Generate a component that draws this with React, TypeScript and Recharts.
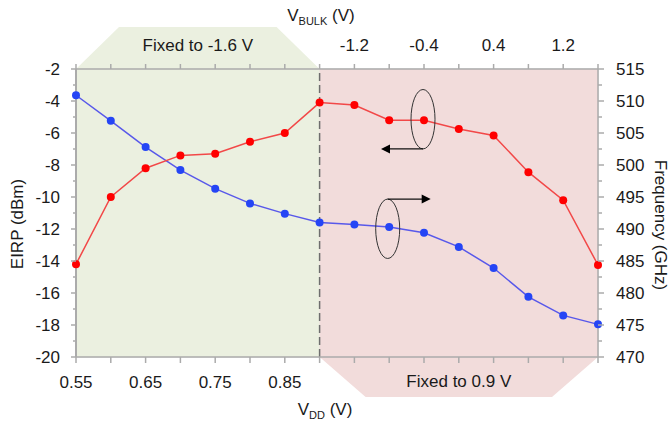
import React from 'react';
import {
  ComposedChart,
  Line,
  XAxis,
  YAxis,
  CartesianGrid,
  ReferenceArea,
  ReferenceLine,
  ReferenceDot,
} from 'recharts';

// sweep steps: 0..7 -> VDD sweep (bulk fixed), 7..15 -> VBULK sweep (VDD fixed)
const steps = [0, 1, 2, 3, 4, 5, 6, 7, 8, 9, 10, 11, 12, 13, 14, 15];
const eirp = [-14.2, -10.0, -8.2, -7.4, -7.3, -6.55, -6.0, -4.1, -4.25, -5.2, -5.2, -5.75, -6.15, -8.45, -10.2, -14.25];
const freq = [510.9, 506.9, 502.8, 499.2, 496.3, 494.0, 492.4, 491.0, 490.7, 490.3, 489.4, 487.2, 483.9, 479.4, 476.5, 475.1];

const vddTickSteps = [0, 2, 4, 6];
const vddTickLabels = ['0.55', '0.65', '0.75', '0.85'];
const bulkTickSteps = [8, 10, 12, 14];
const bulkTickLabels = ['-1.2', '-0.4', '0.4', '1.2'];

const eirpTicks = [-20, -19, -18, -17, -16, -15, -14, -13, -12, -11, -10, -9, -8, -7, -6, -5, -4, -3, -2];
const eirpGrid = [-20, -18, -16, -14, -12, -10, -8, -6, -4, -2];
const freqTicks = [470, 472.5, 475, 477.5, 480, 482.5, 485, 487.5, 490, 492.5, 495, 497.5, 500, 502.5, 505, 507.5, 510, 512.5, 515];

const data = steps.map((s, i) => ({ step: s, eirp: eirp[i], freq: freq[i] }));

const FONT = '"Liberation Sans", Arial, sans-serif';
const FS = 17;
const TXT = '#1a1a1a';
const AXIS = '#ababab';

const BottomTick = ({ x, y, payload }: any) => {
  const i = vddTickSteps.indexOf(payload.value);
  return (
    <g>
      <line x1={x} x2={x} y1={y} y2={y + 6} stroke={AXIS} strokeWidth={1.5} />
      {i >= 0 && (
        <text x={x} y={y + 25} textAnchor="middle" dominantBaseline="central" fontSize={FS} fill={TXT} fontFamily={FONT}>
          {vddTickLabels[i]}
        </text>
      )}
    </g>
  );
};

const TopTick = ({ x, y, payload }: any) => {
  const i = bulkTickSteps.indexOf(payload.value);
  return (
    <g>
      <line x1={x} x2={x} y1={y} y2={y - 5} stroke={AXIS} strokeWidth={1.5} />
      {i >= 0 && (
        <text x={x} y={y - 24} textAnchor="middle" dominantBaseline="central" fontSize={FS} fill={TXT} fontFamily={FONT}>
          {bulkTickLabels[i]}
        </text>
      )}
    </g>
  );
};

const LeftTick = ({ x, y, payload }: any) => {
  const major = payload.value % 2 === 0;
  return (
    <g>
      <line x1={x} x2={x - (major ? 5 : 3)} y1={y} y2={y} stroke={AXIS} strokeWidth={1.5} />
      {major && (
        <text x={x - 16} y={y} textAnchor="end" dominantBaseline="central" fontSize={FS} fill={TXT} fontFamily={FONT}>
          {payload.value}
        </text>
      )}
    </g>
  );
};

const RightTick = ({ x, y, payload }: any) => {
  const major = payload.value % 5 === 0;
  return (
    <g>
      <line x1={x} x2={x + (major ? 6 : 4)} y1={y} y2={y} stroke={AXIS} strokeWidth={1.5} />
      {major && (
        <text x={x + 18} y={y} textAnchor="start" dominantBaseline="central" fontSize={FS} fill={TXT} fontFamily={FONT}>
          {payload.value}
        </text>
      )}
    </g>
  );
};

const GreenArea = ({ x, y, width, height }: any) => {
  const c = 43;
  const pts = [
    [x, y + height],
    [x, y],
    [x + c, y - 42],
    [x + width - c, y - 42],
    [x + width, y],
    [x + width, y + height],
  ];
  return (
    <g>
      <polygon points={pts.map((p) => p.join(',')).join(' ')} fill="#ebf0e0" />
      <text x={x + width / 2} y={y - 24} textAnchor="middle" dominantBaseline="central" fontSize={FS} fill={TXT} fontFamily={FONT}>
        Fixed to -1.6 V
      </text>
    </g>
  );
};

const PinkArea = ({ x, y, width, height }: any) => {
  const c = 46;
  const b = y + height;
  const pts = [
    [x, y],
    [x + width, y],
    [x + width, b],
    [x + width - c, b + 40],
    [x + c, b + 40],
    [x, b],
  ];
  return (
    <g>
      <polygon points={pts.map((p) => p.join(',')).join(' ')} fill="#f2dcdb" />
      <text x={x + width / 2} y={b + 24} textAnchor="middle" dominantBaseline="central" fontSize={FS} fill={TXT} fontFamily={FONT}>
        Fixed to 0.9 V
      </text>
    </g>
  );
};

const arrowHead = (tipX: number, tipY: number, dir: number) =>
  `${tipX},${tipY} ${tipX - dir * 9},${tipY - 4.5} ${tipX - dir * 9},${tipY + 4.5}`;

// ellipse marker with arrow pointing to the left axis
const EirpMarker = ({ cx, cy }: any) => {
  const ex = cx - 1;
  const ey = cy - 1;
  return (
    <g>
      <ellipse cx={ex} cy={ey} rx={12} ry={29.7} fill="none" stroke="#333" strokeWidth={1} />
      <line x1={ex} y1={ey + 29.7} x2={ex - 36} y2={ey + 29.7} stroke="#111" strokeWidth={1.2} />
      <polygon points={arrowHead(ex - 42, ey + 29.7, -1)} fill="#000" />
    </g>
  );
};

// ellipse marker with arrow pointing to the right axis
const FreqMarker = ({ cx, cy }: any) => {
  const ex = cx - 1.5;
  const ey = cy + 1.7;
  return (
    <g>
      <ellipse cx={ex} cy={ey} rx={12} ry={29.7} fill="none" stroke="#333" strokeWidth={1} />
      <line x1={ex} y1={ey - 29.7} x2={ex + 36} y2={ey - 29.7} stroke="#111" strokeWidth={1.2} />
      <polygon points={arrowHead(ex + 43, ey - 29.7, 1)} fill="#000" />
    </g>
  );
};

export default function App() {
  return (
    <div style={{ position: 'absolute', left: 0, top: 0, width: 670, height: 425, background: '#fff' }}>
      <ComposedChart width={670} height={425} data={data} margin={{ top: 0, right: 0, bottom: 0, left: 0 }}>
        <ReferenceArea
          xAxisId="bottom"
          yAxisId="eirp"
          x1={0}
          x2={7}
          y1={-20}
          y2={-2}
          ifOverflow="visible"
          shape={<GreenArea />}
        />
        <ReferenceArea
          xAxisId="bottom"
          yAxisId="eirp"
          x1={7}
          x2={15}
          y1={-20}
          y2={-2}
          ifOverflow="visible"
          shape={<PinkArea />}
        />
        <CartesianGrid
          xAxisId="bottom"
          yAxisId="eirp"
          horizontalValues={eirpGrid}
          verticalValues={steps}
          stroke="rgba(0,0,0,0.1)"
          strokeWidth={1.2}
        />
        <XAxis
          xAxisId="bottom"
          dataKey="step"
          type="number"
          domain={[0, 15]}
          ticks={steps}
          interval={0}
          height={68}
          tickSize={0}
          tickMargin={0}
          tickLine={false}
          axisLine={{ stroke: AXIS, strokeWidth: 1.5 }}
          tick={<BottomTick />}
          label={{
            content: ({ viewBox }: any) => (
              <text x={viewBox.x + viewBox.width / 2 - 12} y={viewBox.y + 58} textAnchor="middle" fontSize={FS} fill={TXT} fontFamily={FONT}>
                V<tspan fontSize={11} dy={4}>DD</tspan>
                <tspan dy={-4}> (V)</tspan>
              </text>
            ),
          }}
        />
        <XAxis
          xAxisId="top"
          orientation="top"
          dataKey="step"
          type="number"
          domain={[0, 15]}
          ticks={steps}
          interval={0}
          height={69}
          tickSize={0}
          tickMargin={0}
          tickLine={false}
          axisLine={{ stroke: AXIS, strokeWidth: 1.5 }}
          tick={<TopTick />}
          label={{
            content: ({ viewBox }: any) => (
              <text x={viewBox.x + viewBox.width / 2 - 16} y={21} textAnchor="middle" fontSize={FS} fill={TXT} fontFamily={FONT}>
                V<tspan fontSize={11} dy={4}>BULK</tspan>
                <tspan dy={-4}> (V)</tspan>
              </text>
            ),
          }}
        />
        <YAxis
          yAxisId="eirp"
          domain={[-20, -2]}
          ticks={eirpTicks}
          interval={0}
          width={76}
          tickSize={0}
          tickMargin={0}
          tickLine={false}
          axisLine={{ stroke: AXIS, strokeWidth: 2 }}
          tick={<LeftTick />}
          label={{
            content: ({ viewBox }: any) => {
              const cx = viewBox.x + 17;
              const cy = viewBox.y + viewBox.height / 2 + 11;
              return (
                <text x={cx} y={cy} transform={`rotate(-90 ${cx} ${cy})`} textAnchor="middle" dominantBaseline="central" fontSize={FS} fill={TXT} fontFamily={FONT}>
                  EIRP (dBm)
                </text>
              );
            },
          }}
        />
        <YAxis
          yAxisId="freq"
          orientation="right"
          domain={[470, 515]}
          ticks={freqTicks}
          interval={0}
          width={72}
          tickSize={0}
          tickMargin={0}
          tickLine={false}
          axisLine={{ stroke: AXIS, strokeWidth: 1.5 }}
          tick={<RightTick />}
          label={{
            content: ({ viewBox }: any) => {
              const cx = viewBox.x + 62;
              const cy = viewBox.y + viewBox.height / 2 + 12;
              return (
                <text x={cx} y={cy} transform={`rotate(90 ${cx} ${cy})`} textAnchor="middle" dominantBaseline="central" fontSize={FS} fill={TXT} fontFamily={FONT}>
                  Frequency (GHz)
                </text>
              );
            },
          }}
        />
        <ReferenceLine
          xAxisId="bottom"
          yAxisId="eirp"
          x={7}
          stroke="#6e6e6e"
          strokeWidth={1.5}
          strokeDasharray="8 4"
        />
        <Line
          xAxisId="bottom"
          yAxisId="freq"
          dataKey="freq"
          stroke="#5858ea"
          strokeWidth={1.5}
          dot={{ r: 4, fill: '#2545f5', stroke: 'none' }}
          isAnimationActive={false}
        />
        <Line
          xAxisId="bottom"
          yAxisId="eirp"
          dataKey="eirp"
          stroke="#f24848"
          strokeWidth={1.5}
          dot={{ r: 4, fill: '#ff0000', stroke: 'none' }}
          isAnimationActive={false}
        />
        <ReferenceDot xAxisId="bottom" yAxisId="eirp" x={10} y={eirp[10]} ifOverflow="visible" shape={<EirpMarker />} />
        <ReferenceDot xAxisId="bottom" yAxisId="freq" x={9} y={freq[9]} ifOverflow="visible" shape={<FreqMarker />} />
      </ComposedChart>
    </div>
  );
}
